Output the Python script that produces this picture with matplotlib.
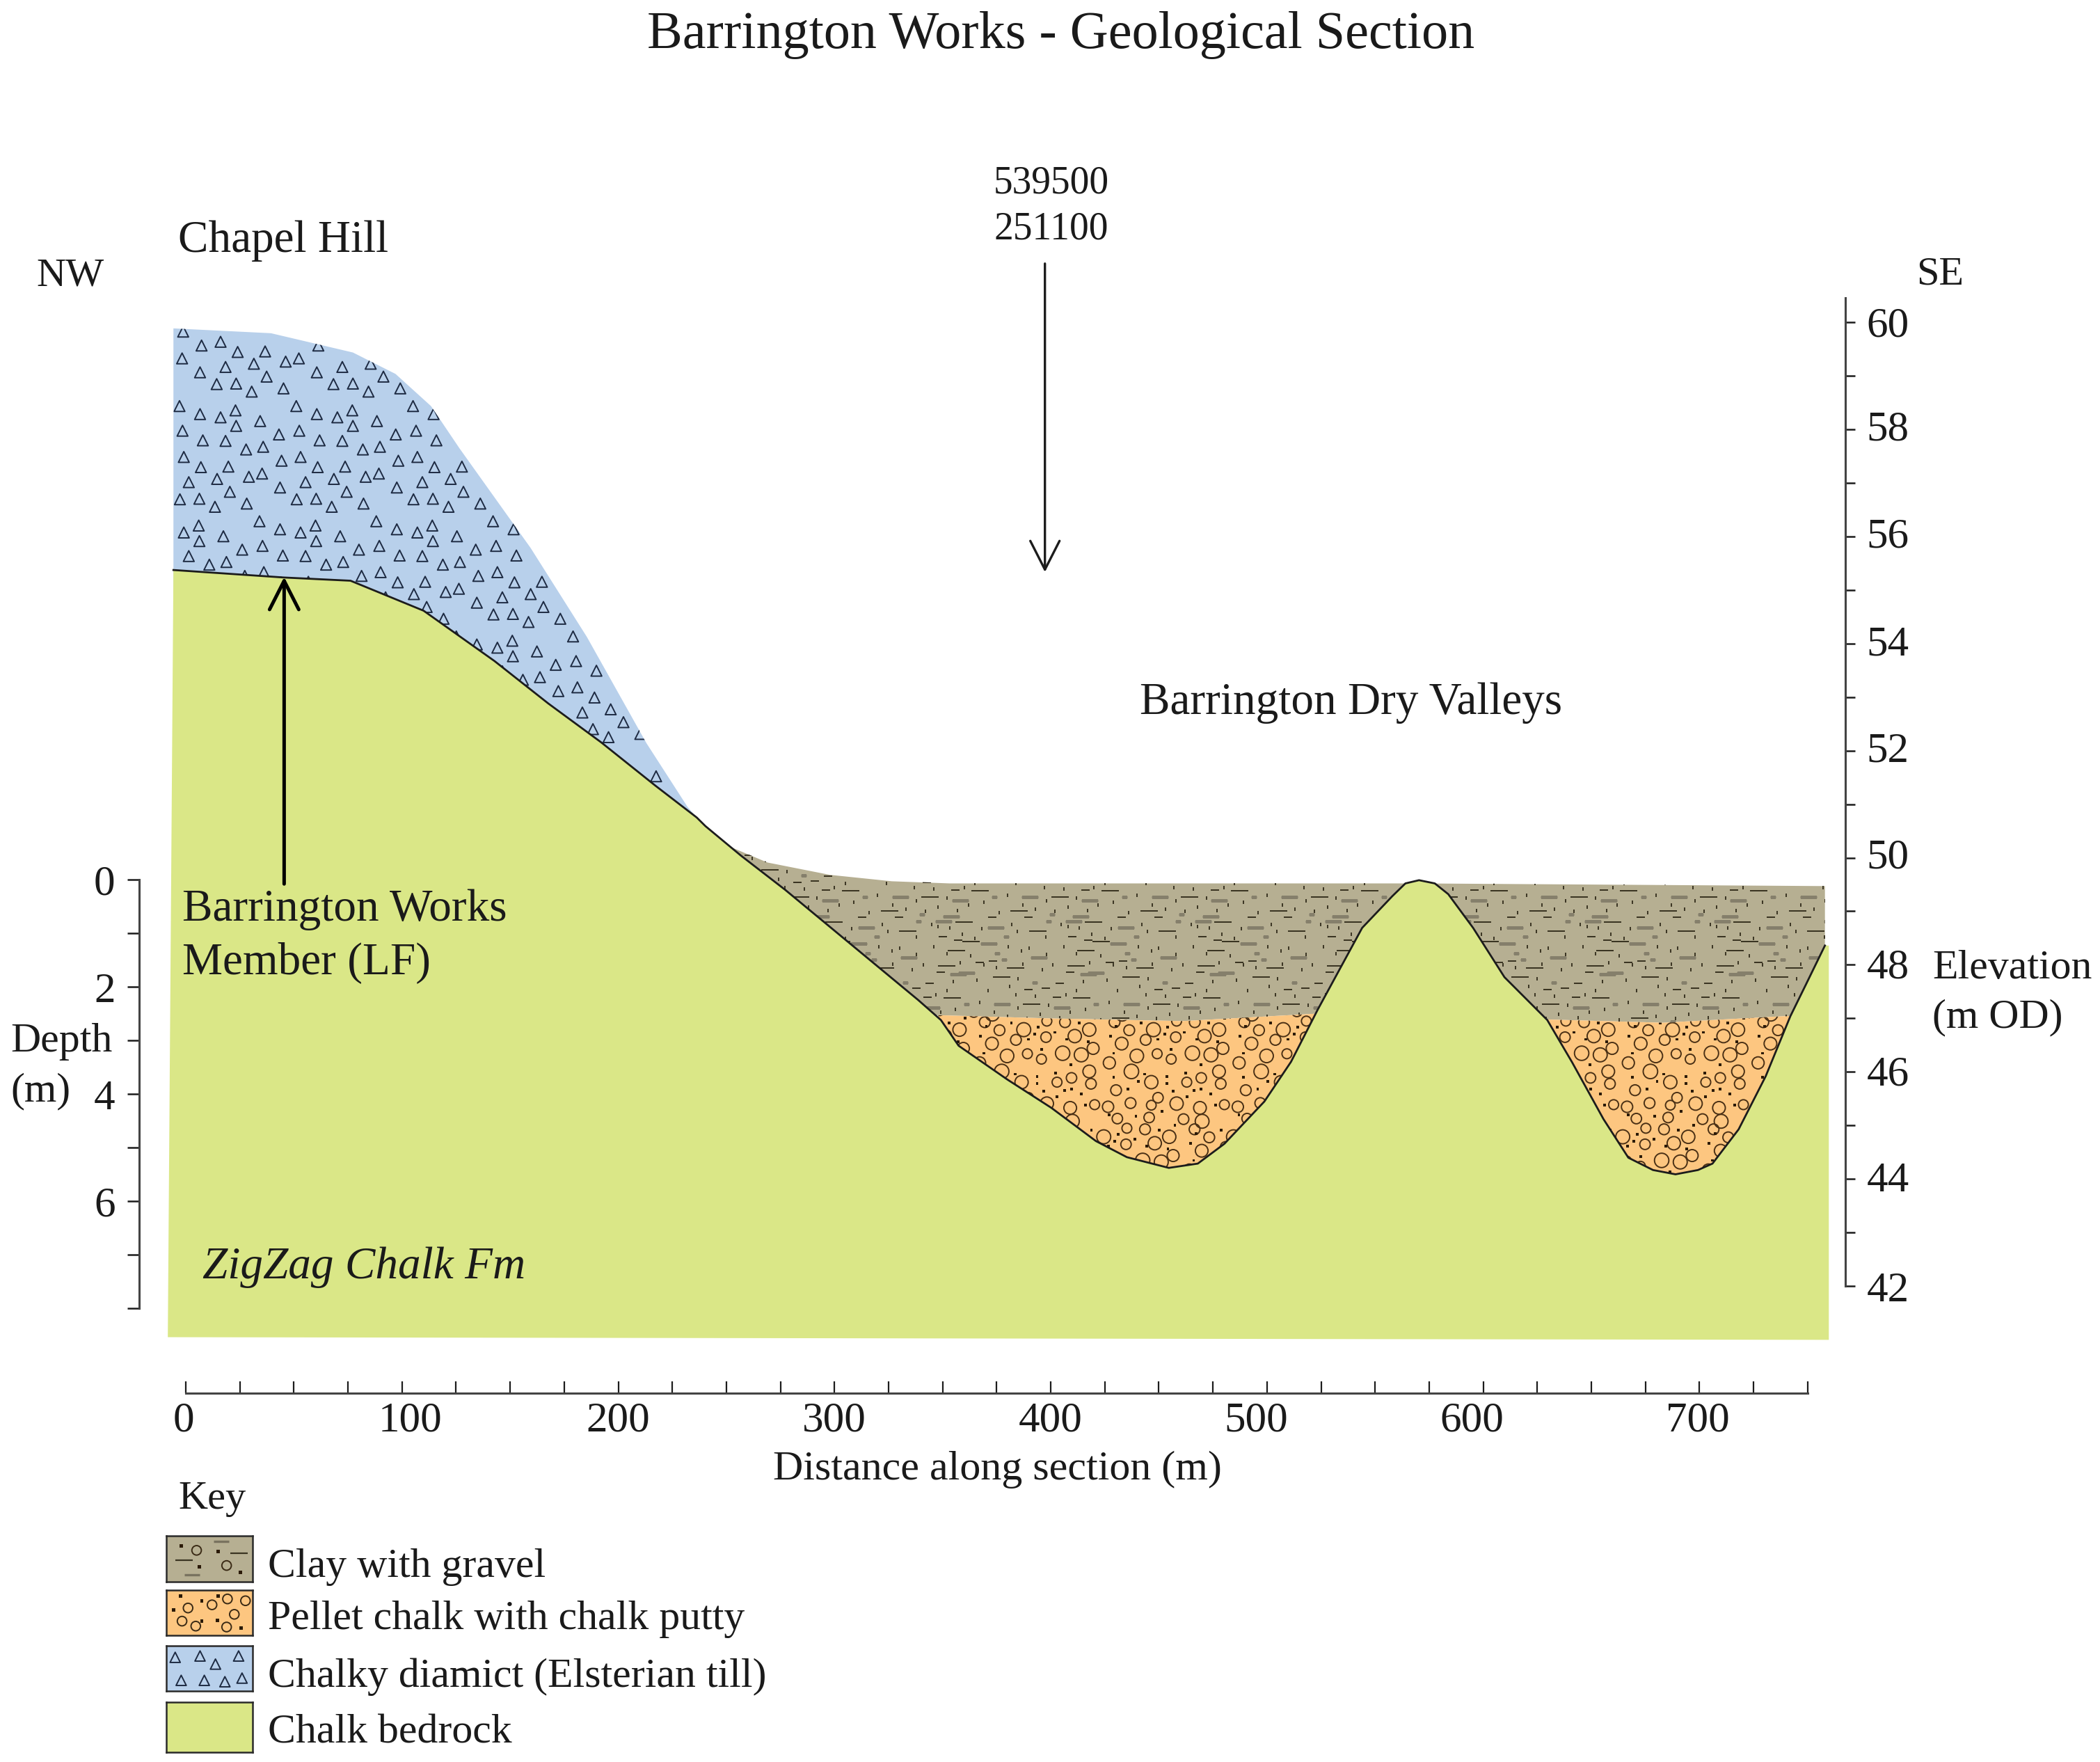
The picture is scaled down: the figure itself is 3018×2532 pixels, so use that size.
import matplotlib
matplotlib.use('Agg')
import matplotlib.pyplot as plt
import numpy as np
from matplotlib.path import Path
from matplotlib.patches import PathPatch
from matplotlib.transforms import ScaledTranslation

plt.rcParams['font.family'] = ['Liberation Serif', 'DejaVu Serif']

# Profiles: distance (m), elevation (m OD)
bedrock_x = [-5.7, 45.5, 76.2, 110, 142.8, 167.6, 192.2, 217, 236.3,
             240.3, 256.7, 277.2, 308, 338.8, 349.2, 357.4, 379.9, 400.3, 420.9, 435.2, 454.6, 468, 480.3, 498.8,
             511.1, 523.4, 544,
             557.9, 564, 570.3, 577.6, 583.8, 595.3, 609.8, 629.6, 641.1, 655.6, 667.1, 678.5, 688.9, 699.3, 706,
             718.1, 730.6, 742, 749.3, 758]
bedrock_y = [55.37, 55.23, 55.17, 54.61, 53.67, 52.88, 52.15, 51.35, 50.75,
             50.59, 50.04, 49.40, 48.37, 47.34, 46.97, 46.49, 45.86, 45.33, 44.71, 44.41, 44.21, 44.29, 44.66, 45.45,
             46.19, 47.16, 48.69,
             49.28, 49.52, 49.58, 49.52, 49.32, 48.69, 47.77, 46.97, 46.18, 45.12, 44.40, 44.17, 44.09, 44.17, 44.29,
             44.93, 45.92, 47.04, 47.64, 48.36]
till_x = [-5.7, 39.4, 77.3, 97, 113.4, 126.6, 159.5, 185.5, 213, 232, 237]
till_y = [59.88, 59.79, 59.43, 59.03, 58.43, 57.64, 55.78, 54.12, 52.14, 50.95, 50.72]
clay_x = [252.5, 269, 297.8, 326.5, 353.2, 570, 758]
clay_y = [50.19, 49.91, 49.68, 49.56, 49.52, 49.52, 49.47]
pellet1_x = [348, 400, 461, 523.4]
pellet1_y = [47.06, 47.0, 46.95, 47.09]
pellet2_x = [629.6, 683, 743.1]
pellet2_y = [46.98, 46.92, 47.05]

# Scale ticks
dist_major = [0, 100, 200, 300, 400, 500, 600, 700]
elev_major = [42, 44, 46, 48, 50, 52, 54, 56, 58, 60]
depth_major = [0, 2, 4, 6]

# Lithology symbols, one repeat of the ornament (m along section, m up)
till_tile_x = [10.1, 19.6, 29.1, 36.3, 47.4, 2.1, 11.5, 20.9, 31.4, 40.9, 48.8, 3.3, 12.1, 20.0, 32.7, 42.2, 48.3,
               2.6, 14.4, 27.5, 33.4, 10.3, 19.3, 26.5, 41.2, 36.0]
till_tile_y = [1.98, 1.83, 1.77, 1.61, 1.70, 1.45, 1.52, 1.34, 1.33, 1.17, 1.22, 0.96, 1.03, 0.84, 0.85, 0.66, 0.72,
               0.46, 0.56, 0.62, 0.38, 0.24, 0.25, 0.10, 0.16, 1.90]
pellet_tile_x = [6.5, 24.5, 35.2, 43.6, 54.8, 13.3, 20.9, 34.8, 48.1, 9.8, 56.6, 26.2, 42.5, 51.1, 16.8, 32.7, 4.1,
                 54.8, 14.3, 46.6, 23.5, 39.9, 55.6, 7.2, 26.6, 35.2, 46, 13.9, 23.5, 3.5, 57.3, 22.5, 38.4, 47, 7.8]
pellet_tile_y = [1.93, 1.79, 1.95, 1.93, 1.79, 1.78, 1.60, 1.65, 1.67, 1.53, 1.44, 1.34, 1.35, 1.32, 1.30, 1.24, 1.17,
                 1.01, 1.01, 0.89, 0.81, 0.81, 0.78, 0.66, 0.52, 0.41, 0.33, 0.42, 0.38, 0.35, 0.39, 0.15, 0.12, 0.08, 0.13]
pellet_tile_s = [31, 52, 26, 31, 47, 31, 31, 29, 47, 43, 38, 26, 55, 52, 49, 26, 39,
                 43, 56, 29, 47, 26, 30, 31, 29, 47, 43, 31, 25, 34, 26, 29, 30, 51, 29]
grain_tile_x = [18.8, 31.1, 50.1, 38.9, 26.6, 44.4, 4.5, 54.2, 32.7, 6.1, 46.4, 20.5, 30.7, 39.3, 6.1, 30.7, 17.4,
                43.4, 46.6, 12.7, 33.7, 51.1, 39.9, 28.6, 16.4, 34.4, 7.2, 29.7, 53.2, 4]
grain_tile_y = [1.92, 1.84, 1.91, 1.74, 1.61, 1.61, 1.67, 1.56, 1.42, 1.35, 1.14, 0.96, 0.91, 0.98, 0.90, 0.78, 0.82,
                0.66, 0.68, 0.68, 0.64, 0.59, 0.54, 0.27, 0.18, 0.0, 1.85, 1.71, 0.38, 0.2]

clay_long_dark_x = [59.6, 33.7, 56.2, 23.5, 17, 51.7, 31.1, 54.2, 12.3, 3.1]
clay_long_dark_y = [1.90, 1.73, 1.37, 1.04, 0.87, 1.08, 0.37, 0.48, 0.10, 1.54]
clay_long_grey_x = [14.7, 50.5, 11.2, 34.4, 57.3, 1, 45, 17.4, 40.9]
clay_long_grey_y = [1.80, 1.91, 1.50, 1.24, 0.92, 0.95, 0.30, 0.37, 0.0]
clay_short_dark_x = [12.9, 29.7, 50.1, 57.3, 7.2, 13.3, 49.1, 44, 29.7, 37.8, 42.9]
clay_short_dark_y = [1.99, 1.99, 1.63, 1.56, 1.14, 1.17, 0.96, 0.76, 0.64, 0.67, 0.49]
clay_short_grey_x = [19.4, 38.9, 15.3, 18.4, 32.7, 1, 27.6]
clay_short_grey_y = [1.63, 1.91, 1.32, 1.20, 0.77, 0.36, 0.04]
clay_dot_x = [22, 44.9, 24.6, 37.8, 53.2, 48, 59, 20.5, 26.6, 30, 38, 46, 52, 8, 5, 3, 9, 15, 25, 27, 36, 41, 55, 58,
              6, 11, 21, 24, 33, 39, 47, 52, 56, 7, 14, 20, 25, 35, 44, 49, 3, 29]
clay_dot_y = [1.86, 1.86, 1.73, 1.63, 1.79, 1.82, 1.68, 1.45, 1.37, 1.42, 1.30, 1.45, 1.32, 1.78, 1.60, 1.28, 1.10, 1.05,
              0.85, 1.12, 1.02, 1.10, 0.80, 1.15, 0.82, 0.62, 0.70, 0.55, 0.52, 0.35, 0.55, 0.62, 0.28, 0.40, 0.22, 0.15,
              0.30, 0.18, 0.12, 0.22, 0.08, 0.10]

# Key labels and colours
key_labels = ['Clay with gravel', 'Pellet chalk with chalk putty', 'Chalky diamict (Elsterian till)', 'Chalk bedrock']
key_tops = [1146.5, 1187, 1228.6, 1271]
key_bottoms = [1180.8, 1220.8, 1262.3, 1308]
key_label_y = [1170, 1209, 1252, 1294]
c_chalk = '#DAE787'
c_till = '#B8D0EB'
c_clay = '#B6AF92'
c_pellet = '#FDC680'
ink = '#1c1c1c'
axis_grey = '#444444'

W, H = 1568.0, 1315.5  # layout units of the page
PX = 3018 / W / 200    # one layout unit in inches


def repeat(xs, ys, px, py, x0, x1, y0, y1, shift=0):
    # repeats one tile of an ornament over a box, each row slid along by shift
    gx, gy = np.meshgrid(np.arange(x0 - 3 * px, x1 + px, px), np.arange(y0, y1, py))
    gx = gx + shift * np.arange(gx.shape[0])[:, None]
    X = (gx[..., None] + np.array(xs)).ravel()
    Y = (gy[..., None] + np.array(ys)).ravel()
    return X, Y


def put(x, y, s, **kw):
    kw.setdefault('fontsize', 22)
    kw.setdefault('va', 'center')
    kw.setdefault('color', '#1a1a1a')
    fig.text(x / W, 1 - y / H, s, **kw)


fig = plt.figure(figsize=(15.09, 12.66), dpi=200)
ax = fig.add_axes([0, 0, 1, 1])
ax.patch.set_alpha(0)
ax.set_xlim(-85.9, 885.2)
ax.set_ylim(33.12, 66.01)
# depth scale, same vertical scale hung from the valley floor
ax2 = ax.twinx()
ax2.set_ylim(49.585 - 33.12, 49.585 - 66.01)

# fills, bedrock goes last so that it trims the ornaments along the valley sides
till_poly = list(zip(till_x, till_y)) + [(237, 45), (-5.7, 45)]
clay_poly = (list(zip(clay_x, clay_y)) + [(758, 47.05)] + list(zip(pellet2_x, pellet2_y))[::-1]
             + list(zip(pellet1_x, pellet1_y))[::-1] + [(252.5, 47.05)])
p1_poly = list(zip(pellet1_x, pellet1_y)) + [(523.4, 43), (348, 43)]
p2_poly = list(zip(pellet2_x, pellet2_y)) + [(743.1, 43), (629.6, 43)]
bed_poly = list(zip(bedrock_x, bedrock_y)) + [(759.8, 48.36), (759.8, 41.0), (-8.3, 41.05)]

patches = {}
for name, poly, col in [('till', till_poly, c_till), ('clay', clay_poly, c_clay),
                        ('p1', p1_poly, c_pellet), ('p2', p2_poly, c_pellet)]:
    patches[name] = PathPatch(Path(poly + [poly[0]], closed=True), fc=col, ec='none', zorder=1)
    ax.add_patch(patches[name])

X, Y = repeat(till_tile_x, till_tile_y, 54, 2.15, -10, 240, 50, 61, shift=17)
inside = Path(till_poly).contains_points(np.c_[X, Y])
sc = ax.scatter(X[inside], Y[inside], marker='^', s=31, fc='none', ec='#1d2a42', lw=0.7, zorder=2)
sc.set_clip_path(patches['till'])

for name in ['p1', 'p2']:
    X, Y = repeat(pellet_tile_x, pellet_tile_y, 60, 2, 340, 760, 43, 47.2, shift=23)
    S = np.tile(pellet_tile_s, X.size // len(pellet_tile_s))
    sc = ax.scatter(X, Y, marker='o', s=S, fc='none', ec='#4a3015', lw=0.7, zorder=2)
    sc.set_clip_path(patches[name])
    X, Y = repeat(grain_tile_x, grain_tile_y, 60, 2, 340, 760, 43, 47.2, shift=23)
    sc = ax.scatter(X, Y, marker='s', s=2.0, fc='#2b1a08', ec='none', zorder=2)
    sc.set_clip_path(patches[name])

clay_marks = [(clay_long_dark_x, clay_long_dark_y, '_', 9, 0.7, '#3a3422'),
              (clay_long_grey_x, clay_long_grey_y, '_', 8.5, 1.1, '#857f6b'),
              (clay_short_dark_x, clay_short_dark_y, '_', 4, 0.7, '#3a3422'),
              (clay_short_grey_x, clay_short_grey_y, '_', 3.2, 1.1, '#857f6b'),
              (clay_dot_x, clay_dot_y, '|', 1.8, 0.7, '#3a3422')]
for mx, my, mk, ms, mew, col in clay_marks:
    X, Y = repeat(mx, my, 60, 2, 240, 760, 46.9, 49.9, shift=13)
    ln, = ax.plot(X, Y, ls='none', marker=mk, ms=ms, mew=mew, color=col, zorder=2)
    ln.set_clip_path(patches['clay'])

ax.add_patch(PathPatch(Path(bed_poly + [bed_poly[0]], closed=True), fc=c_chalk, ec='none', zorder=3))
ax.plot(bedrock_x, bedrock_y, color=ink, lw=1.0, zorder=4, solid_joinstyle='round')

# arrows
ax.annotate('', xy=(397.3, 55.33), xytext=(397.3, 61.09), zorder=5,
            arrowprops=dict(arrowstyle='->,head_length=0.55,head_width=0.28', lw=1.2, color=ink, mutation_scale=27,
                            shrinkA=0, shrinkB=0))
ax.annotate('', xy=(45.5, 55.24), xytext=(45.5, 49.51), zorder=5,
            arrowprops=dict(arrowstyle='->,head_length=0.55,head_width=0.28', lw=1.8, color='black', mutation_scale=27,
                            shrinkA=0, shrinkB=0))

# axes: distance below the section, elevation on the right
for side in ['top', 'left']:
    ax.spines[side].set_visible(False)
ax.spines['bottom'].set_position(('data', 40.01))
ax.spines['bottom'].set_bounds(0, 750)
ax.spines['right'].set_position(('data', 767.4))
ax.spines['right'].set_bounds(42, 60.45)
for side in ['bottom', 'right']:
    ax.spines[side].set_linewidth(1.1)
    ax.spines[side].set_color(axis_grey)
ax.set_xticks(dist_major)
ax.set_xticks(np.arange(0, 751, 25), minor=True)
ax.yaxis.tick_right()
ax.set_yticks(elev_major)
ax.set_yticks(np.arange(42, 61), minor=True)
ax.tick_params(axis='x', which='both', direction='in', length=6, width=0.8, color=ink)
ax.tick_params(axis='x', which='major', labelsize=22, pad=4.5, labelcolor='#1a1a1a')
ax.tick_params(axis='y', which='both', direction='out', length=5, width=0.9, color=ink)
ax.tick_params(axis='y', which='major', labelsize=22, pad=6, labelcolor='#1a1a1a')

# the scale labels sit a little off their ticks
dist_label_shift = [-1.5, 6, 0, 0, 0, -8, -8.5, -1.5]
for lab, dx in zip(ax.get_xticklabels(), dist_label_shift):
    lab.set_transform(lab.get_transform() + ScaledTranslation(dx * PX, 0, fig.dpi_scale_trans))
elev_label_shift = [0, 2, 1, 1, 3, 3, 2, 3, 3, 0]
for lab, dy in zip(ax.get_yticklabels(), elev_label_shift):
    lab.set_transform(lab.get_transform() + ScaledTranslation(0, dy * PX, fig.dpi_scale_trans))

for side in ['top', 'right', 'bottom']:
    ax2.spines[side].set_visible(False)
ax2.spines['left'].set_visible(True)
ax2.spines['left'].set_position(('data', -21.7))
ax2.spines['left'].set_bounds(0, 8)
ax2.spines['left'].set_linewidth(1.1)
ax2.spines['left'].set_color(axis_grey)
ax2.yaxis.tick_left()
ax2.set_yticks(depth_major)
ax2.set_yticks(np.arange(0, 9), minor=True)
ax2.tick_params(axis='y', which='both', direction='out', length=6.2, width=0.9, color=ink)
ax2.tick_params(axis='y', which='major', labelsize=22, pad=6, labelcolor='#1a1a1a')

# annotation text
put(792, 26, 'Barrington Works - Geological Section', ha='center', fontsize=27.4)
put(785, 137, '539500', ha='center', fontsize=20)
put(785, 171, '251100', ha='center', fontsize=20)
put(133, 180, 'Chapel Hill', fontsize=23.5)
put(27, 206, 'NW', fontsize=21)
put(1431, 205, 'SE', fontsize=21)
put(851, 525, 'Barrington Dry Valleys', fontsize=23.5)
put(136, 679, 'Barrington Works', fontsize=23.5)
put(136, 719, 'Member (LF)', fontsize=23.5)
put(8, 778, 'Depth', fontsize=21.5)
put(8, 815, '(m)', fontsize=21.5)
put(1443, 723, 'Elevation', fontsize=21.5)
put(1443, 760, '(m OD)', fontsize=21.5)
put(151, 946, 'ZigZag Chalk Fm', fontstyle='italic', fontsize=23.5)
put(745, 1097, 'Distance along section (m)', ha='center', fontsize=21.6)
put(133, 1119, 'Key', fontsize=21)

# key swatches
swatch_circles = [[(.35, .68), (.70, .35)],
                  [(.25, .6), (.53, .67), (.71, .8), (.92, .76), (.79, .46), (.18, .31), (.34, .2), (.7, .18)]]
swatch_dots = [[(.17, .78), (.6, .66), (.38, .32), (.86, .2)],
               [(.16, .86), (.08, .56), (.41, .76), (.6, .86), (.59, .33), (.41, .31), (.87, .16)]]
swatch_triangles = [(.1, .74), (.39, .77), (.84, .77), (.57, .59), (.17, .23), (.44, .23), (.68, .2), (.88, .28)]
swatch_colours = [c_clay, c_pellet, c_till, c_chalk]
for i, (top, bot, col, lab, ly) in enumerate(zip(key_tops, key_bottoms, swatch_colours, key_labels, key_label_y)):
    s = fig.add_axes([124.4 / W, 1 - bot / H, 64 / W, (bot - top) / H])
    s.set_xlim(0, 1)
    s.set_ylim(0, 1)
    s.set_xticks([])
    s.set_yticks([])
    s.set_facecolor(col)
    for sp in s.spines.values():
        sp.set_linewidth(0.9)
        sp.set_color('#2a2a2a')
    if i < 2:
        cx, cy = zip(*swatch_circles[i])
        s.scatter(cx, cy, marker='o', s=24, fc='none', ec='#3a2a15', lw=0.7)
        dx, dy = zip(*swatch_dots[i])
        s.scatter(dx, dy, marker='s', s=3, fc='#2b1a08', ec='none')
    if i == 0:
        s.plot([.2, .84], [.47, .62], ls='none', marker='_', ms=9, mew=0.8, color='#3a3422')
        s.plot([.64, .3], [.88, .14], ls='none', marker='_', ms=8, mew=1.2, color='#79735f')
    if i == 2:
        tx, ty = zip(*swatch_triangles)
        s.scatter(tx, ty, marker='^', s=28, fc='none', ec='#1d2a42', lw=0.7)
    put(200, ly, lab, fontsize=21.5)

fig.savefig('out.png', dpi=200)
